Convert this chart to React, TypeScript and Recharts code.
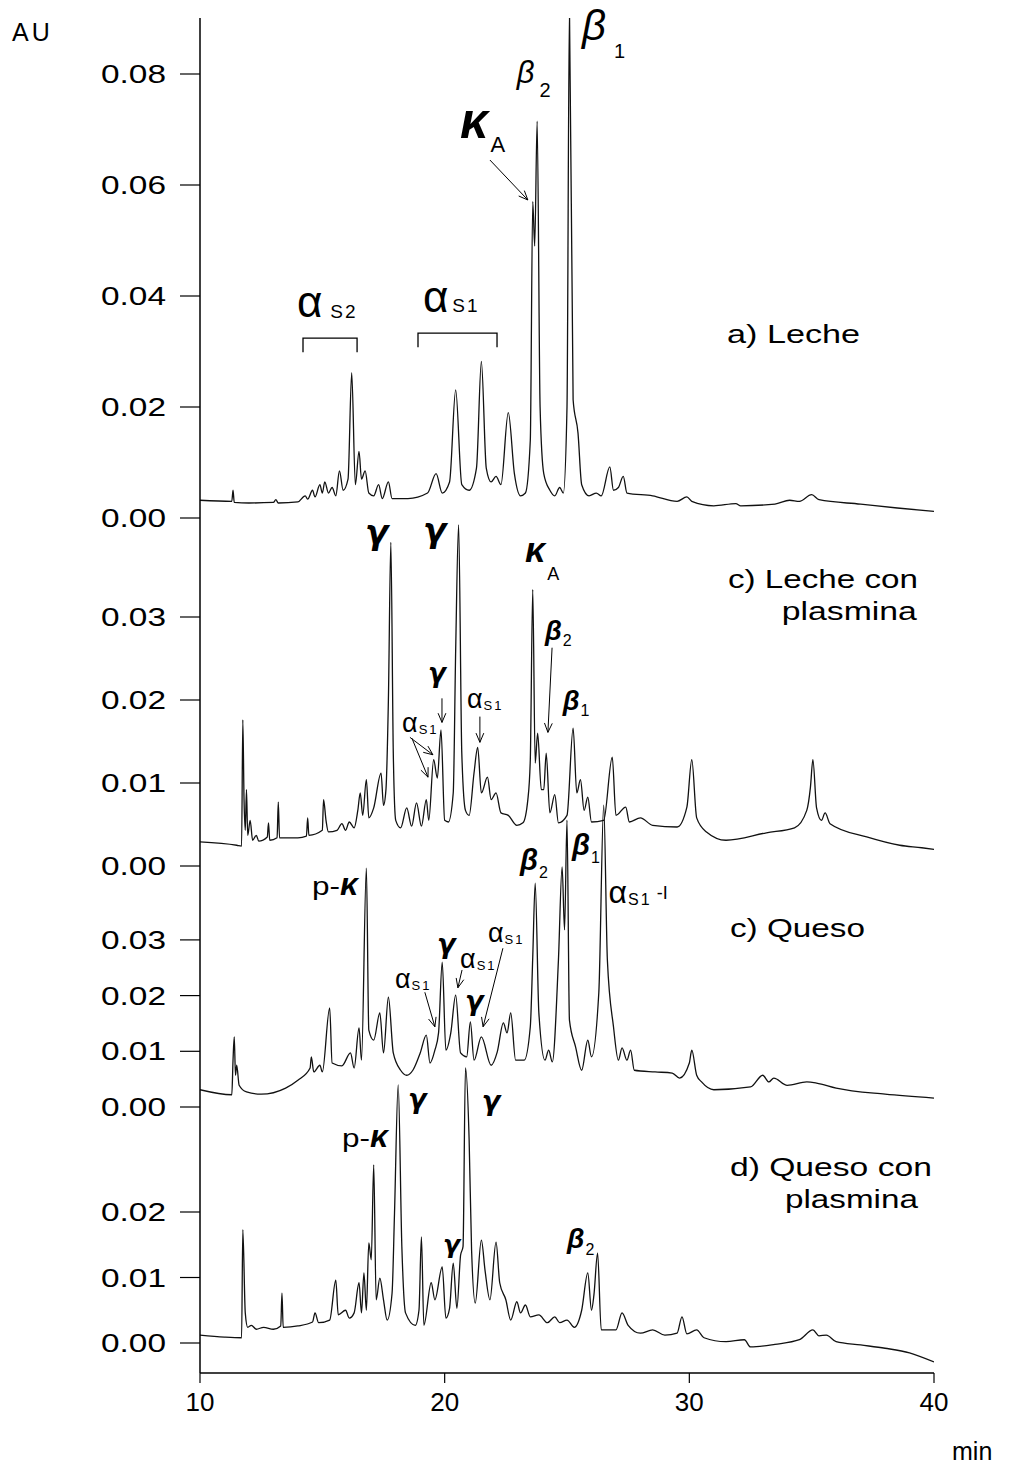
import React from "react";
import { LineChart, Line, XAxis, YAxis, ReferenceDot, ReferenceLine } from "recharts";

const FONT = '"Liberation Sans", Arial, Helvetica, sans-serif';
const GREEK = '"DejaVu Sans", "Liberation Sans", sans-serif';

// a) Leche
const aTime = [10.0, 11.3, 11.35, 11.4, 12.0, 13.0, 13.1, 13.2, 14.0, 14.3, 14.4, 14.6, 14.7, 14.9, 15.0, 15.1, 15.25, 15.4, 15.55, 15.7, 15.85, 16.05, 16.2, 16.35, 16.5, 16.6, 16.75, 16.9, 17.1, 17.3, 17.45, 17.7, 17.85, 18.5, 19.3, 19.65, 19.9, 20.2, 20.45, 20.7, 21.0, 21.3, 21.5, 21.7, 21.9, 22.1, 22.3, 22.6, 22.85, 23.1, 23.3, 23.5, 23.6, 23.68, 23.78, 23.9, 24.05, 24.3, 24.5, 24.7, 24.85, 25.0, 25.1, 25.25, 25.45, 25.6, 25.9, 26.2, 26.4, 26.75, 26.9, 27.1, 27.3, 27.45, 28.5, 29.5, 29.9, 30.1, 31.0, 31.9, 32.1, 33.5, 34.1, 34.5, 35.0, 35.3, 37.0, 38.5, 40.0];
const aAU = [0.0032, 0.003, 0.005, 0.0028, 0.0027, 0.0028, 0.0033, 0.0027, 0.0029, 0.004, 0.0034, 0.005, 0.0038, 0.006, 0.0045, 0.0065, 0.0045, 0.0055, 0.004, 0.0085, 0.005, 0.007, 0.0262, 0.006, 0.012, 0.007, 0.0085, 0.0045, 0.004, 0.006, 0.0035, 0.0065, 0.0035, 0.0035, 0.0045, 0.008, 0.0045, 0.0065, 0.0231, 0.006, 0.005, 0.009, 0.0282, 0.009, 0.0065, 0.0075, 0.006, 0.019, 0.008, 0.004, 0.0045, 0.014, 0.057, 0.049, 0.0715, 0.02, 0.008, 0.005, 0.004, 0.0055, 0.0045, 0.02, 0.092, 0.0213, 0.0153, 0.006, 0.004, 0.0045, 0.004, 0.0092, 0.005, 0.0055, 0.0075, 0.0045, 0.004, 0.003, 0.0038, 0.003, 0.0022, 0.0026, 0.0022, 0.0025, 0.0032, 0.003, 0.0042, 0.0033, 0.0025, 0.0018, 0.0012];

// c) Leche con plasmina
const bTime = [10.0, 11.5, 11.7, 11.75, 11.8, 11.85, 11.9, 11.95, 12.05, 12.15, 12.3, 12.4, 12.75, 12.8, 12.85, 13.15, 13.2, 13.25, 14.0, 14.35, 14.4, 14.45, 15.0, 15.05, 15.15, 15.25, 15.6, 15.8, 15.95, 16.1, 16.3, 16.45, 16.55, 16.65, 16.8, 16.9, 17.1, 17.4, 17.5, 17.6, 17.7, 17.8, 17.9, 18.0, 18.2, 18.45, 18.65, 18.85, 19.05, 19.25, 19.35, 19.55, 19.7, 19.85, 20.0, 20.15, 20.35, 20.45, 20.57, 20.7, 20.85, 21.0, 21.2, 21.35, 21.5, 21.75, 21.9, 22.1, 22.3, 22.6, 22.95, 23.2, 23.4, 23.5, 23.6, 23.7, 23.8, 23.95, 24.05, 24.15, 24.3, 24.5, 24.65, 25.0, 25.25, 25.4, 25.55, 25.7, 25.85, 26.0, 26.5, 26.85, 27.0, 27.4, 27.55, 28.0, 28.5, 29.5, 29.9, 30.1, 30.3, 30.7, 31.5, 33.15, 34.3, 34.8, 34.95, 35.05, 35.2, 35.4, 35.55, 35.75, 37.25, 38.6, 39.5, 40.0];
const bAU = [0.0029, 0.0025, 0.0024, 0.0176, 0.008, 0.0043, 0.0092, 0.0037, 0.0055, 0.0031, 0.0037, 0.003, 0.0035, 0.0052, 0.0031, 0.0034, 0.0077, 0.0034, 0.0034, 0.0036, 0.0058, 0.0037, 0.0043, 0.008, 0.0055, 0.0041, 0.0043, 0.0051, 0.0043, 0.0053, 0.0046, 0.0067, 0.0088, 0.0061, 0.0104, 0.0058, 0.007, 0.0112, 0.0073, 0.0092, 0.02, 0.039, 0.0136, 0.0055, 0.0046, 0.007, 0.0048, 0.0076, 0.0048, 0.008, 0.0055, 0.0128, 0.0106, 0.0164, 0.0055, 0.0053, 0.0088, 0.026, 0.0411, 0.0136, 0.0067, 0.0061, 0.0112, 0.0143, 0.0088, 0.0107, 0.008, 0.0088, 0.0064, 0.0061, 0.0049, 0.0052, 0.008, 0.0128, 0.0333, 0.0124, 0.016, 0.0092, 0.0092, 0.0136, 0.0064, 0.0086, 0.0052, 0.0061, 0.0166, 0.0088, 0.0104, 0.0067, 0.0083, 0.0053, 0.0055, 0.0131, 0.0061, 0.0071, 0.0053, 0.0058, 0.0049, 0.0047, 0.0071, 0.0128, 0.0058, 0.0041, 0.0031, 0.004, 0.0046, 0.0067, 0.0095, 0.0128, 0.007, 0.0055, 0.0064, 0.0051, 0.0035, 0.0025, 0.0022, 0.002];

// c) Queso
const cTime = [10.0, 11.3, 11.35, 11.4, 11.45, 11.5, 11.6, 11.9, 12.5, 13.5, 14.0, 14.5, 14.55, 14.65, 14.9, 15.0, 15.3, 15.4, 15.8, 16.15, 16.3, 16.5, 16.6, 16.8, 16.9, 17.1, 17.35, 17.5, 17.7, 17.9, 18.2, 18.45, 18.7, 19.0, 19.25, 19.4, 19.6, 19.75, 19.9, 20.05, 20.25, 20.45, 20.65, 20.9, 21.05, 21.2, 21.5, 21.9, 22.15, 22.4, 22.55, 22.7, 22.9, 23.25, 23.5, 23.6, 23.7, 23.85, 24.1, 24.25, 24.4, 24.65, 24.8, 24.9, 25.0, 25.1, 25.35, 25.6, 25.85, 26.0, 26.3, 26.5, 26.65, 26.9, 27.1, 27.25, 27.45, 27.6, 27.75, 28.6, 29.3, 29.6, 30.0, 30.1, 30.3, 30.5, 31.0, 32.5, 33.0, 33.25, 33.45, 34.0, 34.8, 35.2, 36.0, 38.0, 40.0];
const cAU = [0.0031, 0.0022, 0.0084, 0.0126, 0.0057, 0.0075, 0.0039, 0.0027, 0.0023, 0.0034, 0.0048, 0.007, 0.009, 0.0063, 0.0075, 0.0063, 0.0178, 0.0079, 0.0074, 0.0097, 0.007, 0.0142, 0.0084, 0.0429, 0.0138, 0.012, 0.0169, 0.0097, 0.0197, 0.0097, 0.0066, 0.0057, 0.0066, 0.0097, 0.0129, 0.0079, 0.0102, 0.0133, 0.026, 0.0102, 0.0133, 0.0201, 0.0097, 0.009, 0.0153, 0.0084, 0.0126, 0.0075, 0.0099, 0.0151, 0.0133, 0.0169, 0.0084, 0.0084, 0.0144, 0.0269, 0.0402, 0.0169, 0.0084, 0.0102, 0.0081, 0.0264, 0.0431, 0.0318, 0.0515, 0.0156, 0.0108, 0.0066, 0.012, 0.009, 0.0205, 0.0542, 0.0264, 0.0144, 0.0084, 0.0106, 0.0084, 0.0102, 0.0066, 0.0063, 0.0061, 0.0052, 0.0079, 0.0102, 0.0057, 0.0045, 0.0031, 0.0036, 0.0057, 0.0045, 0.0052, 0.0039, 0.0045, 0.0043, 0.0034, 0.0023, 0.0016];

// d) Queso con plasmina
const dTime = [10.0, 11.0, 11.7, 11.75, 11.85, 11.95, 12.1, 12.3, 12.6, 13.0, 13.3, 13.35, 13.4, 14.0, 14.6, 14.7, 14.85, 15.3, 15.55, 15.65, 15.95, 16.1, 16.3, 16.5, 16.6, 16.7, 16.8, 16.9, 17.0, 17.1, 17.2, 17.35, 17.5, 17.65, 17.85, 17.95, 18.1, 18.25, 18.4, 18.8, 18.95, 19.05, 19.15, 19.45, 19.6, 19.9, 20.05, 20.2, 20.35, 20.5, 20.65, 20.75, 20.85, 21.0, 21.1, 21.25, 21.5, 21.65, 21.85, 22.1, 22.25, 22.5, 22.7, 22.95, 23.1, 23.3, 23.5, 23.85, 24.2, 24.5, 24.7, 25.0, 25.3, 25.6, 25.85, 26.0, 26.1, 26.25, 26.4, 27.0, 27.25, 27.5, 28.0, 28.5, 29.0, 29.5, 29.7, 29.9, 30.3, 30.6, 31.5, 32.25, 32.5, 33.5, 34.5, 35.05, 35.3, 35.6, 36.0, 37.0, 38.0, 39.0, 40.0];
const dAU = [0.0012, 0.0009, 0.0008, 0.0173, 0.0046, 0.0024, 0.0027, 0.0021, 0.0024, 0.0021, 0.0026, 0.0076, 0.0024, 0.0026, 0.0032, 0.0046, 0.0031, 0.0035, 0.0096, 0.0043, 0.005, 0.0038, 0.0046, 0.0092, 0.0046, 0.0107, 0.005, 0.0153, 0.0127, 0.0272, 0.0066, 0.0099, 0.0066, 0.0035, 0.0076, 0.0198, 0.0394, 0.0147, 0.0046, 0.0027, 0.005, 0.0162, 0.0027, 0.0092, 0.0066, 0.0116, 0.0038, 0.0053, 0.0122, 0.0053, 0.0134, 0.0147, 0.042, 0.031, 0.0142, 0.0061, 0.0157, 0.0111, 0.0066, 0.0154, 0.0092, 0.0066, 0.0035, 0.0063, 0.0046, 0.0058, 0.004, 0.0043, 0.0031, 0.004, 0.0031, 0.0035, 0.0024, 0.005, 0.0107, 0.005, 0.0073, 0.0137, 0.002, 0.002, 0.0046, 0.0027, 0.0015, 0.002, 0.0012, 0.0015, 0.004, 0.0014, 0.002, 0.0008, 0.0002, 0.0005, -0.0006, -0.0002, 0.0005, 0.002, 0.0011, 0.0012, 0.0002, -0.0003, -0.0008, -0.0015, -0.0029];

const xTicks = [10, 20, 30, 40];
const aTicks = [0, 0.02, 0.04, 0.06, 0.08];
const bTicks = [0, 0.01, 0.02, 0.03];
const cTicks = [0, 0.01, 0.02, 0.03];
const dTicks = [0, 0.01, 0.02];

// stacked layout: each trace gets an offset and a scale on one shared axis
const PANELS: Record<string, { off: number; k: number }> = {
  a: { off: 855, k: 5550 },
  b: { off: 507, k: 8300 },
  c: { off: 266, k: 5570 },
  d: { off: 30, k: 6550 },
};
const toU = (p: string, v: number) => PANELS[p].off + v * PANELS[p].k;

const build = (p: string, time: number[], au: number[]) =>
  time.map((t, i) => ({ t, u: toU(p, au[i]) }));

const dataA = build("a", aTime, aAU);
const dataB = build("b", bTime, bAU);
const dataC = build("c", cTime, cAU);
const dataD = build("d", dTime, dAU);

const yTickList = [
  ...aTicks.map((v) => ({ u: toU("a", v), label: v.toFixed(2) })),
  ...bTicks.map((v) => ({ u: toU("b", v), label: v.toFixed(2) })),
  ...cTicks.map((v) => ({ u: toU("c", v), label: v.toFixed(2) })),
  ...dTicks.map((v) => ({ u: toU("d", v), label: v.toFixed(2) })),
];
const yLabelOf = new Map(yTickList.map((d) => [d.u.toFixed(1), d.label]));

const YTick = (props: any) => {
  const { x, y, payload } = props;
  return (
    <text x={x} y={y} dy={9} textAnchor="end" fontFamily={FONT} fontSize={25} fill="#000"
      textLength={65} lengthAdjust="spacingAndGlyphs">
      {yLabelOf.get(Number(payload.value).toFixed(1))}
    </text>
  );
};

type Note = {
  p: string; t: number; v: number; main: string; size: number;
  bold?: boolean; italic?: boolean; pre?: string; greek?: boolean;
  sub?: string; subSize?: number; dx?: number; dy?: number; tail?: string;
};

const notes: Note[] = [
  { p: "a", t: 25.61, v: 0.0861, main: "β", size: 42, italic: true, sub: "1", subSize: 20, dx: 8, dy: 18 },
  { p: "a", t: 22.95, v: 0.0784, main: "β", size: 31, italic: true, sub: "2", subSize: 20, dx: 5, dy: 14 },
  { p: "a", t: 20.63, v: 0.0685, main: "κ", size: 50, bold: true, italic: true, sub: "A", subSize: 22, dx: 2, dy: 14 },
  { p: "a", t: 13.96, v: 0.0362, main: "α", size: 44, sub: "S2", subSize: 19, dx: 8, dy: 1 },
  { p: "a", t: 19.11, v: 0.0371, main: "α", size: 44, sub: "S1", subSize: 19, dx: 4, dy: 0 },
  { p: "b", t: 16.74, v: 0.0388, main: "γ", size: 34, bold: true, italic: true, greek: true },
  { p: "b", t: 19.11, v: 0.039, main: "γ", size: 34, bold: true, italic: true, greek: true },
  { p: "b", t: 19.32, v: 0.0222, main: "γ", size: 26, bold: true, italic: true, greek: true },
  { p: "b", t: 18.26, v: 0.0161, main: "α", size: 27, sub: "S1", subSize: 13, dx: 1, dy: 2 },
  { p: "b", t: 20.91, v: 0.019, main: "α", size: 27, sub: "S1", subSize: 13, dx: 1, dy: 2 },
  { p: "b", t: 23.28, v: 0.0366, main: "κ", size: 36, bold: true, italic: true, sub: "A", subSize: 18, dx: 2, dy: 18 },
  { p: "b", t: 24.1, v: 0.0272, main: "β", size: 27, bold: true, italic: true, sub: "2", subSize: 16, dx: 1, dy: 6 },
  { p: "b", t: 24.83, v: 0.0188, main: "β", size: 27, bold: true, italic: true, sub: "1", subSize: 16, dx: 1, dy: 6 },
  { p: "c", t: 14.58, v: 0.0381, pre: "p-", main: "κ", size: 32, bold: true, italic: true },
  { p: "c", t: 17.97, v: 0.0214, main: "α", size: 27, sub: "S1", subSize: 13, dx: 1, dy: 2 },
  { p: "c", t: 19.69, v: 0.0276, main: "γ", size: 27, bold: true, italic: true, greek: true },
  { p: "c", t: 20.63, v: 0.025, main: "α", size: 27, sub: "S1", subSize: 13, dx: 1, dy: 2 },
  { p: "c", t: 20.83, v: 0.0174, main: "γ", size: 27, bold: true, italic: true, greek: true },
  { p: "c", t: 21.77, v: 0.0296, main: "α", size: 27, sub: "S1", subSize: 13, dx: 1, dy: 2 },
  { p: "c", t: 23.08, v: 0.0425, main: "β", size: 29, bold: true, italic: true, sub: "2", subSize: 16, dx: 1, dy: 8 },
  { p: "c", t: 25.2, v: 0.0452, main: "β", size: 29, bold: true, italic: true, sub: "1", subSize: 16, dx: 1, dy: 8 },
  { p: "c", t: 26.7, v: 0.0366, main: "α", size: 32, sub: "S1", subSize: 16, dx: 1, dy: 2, tail: " -I" },
  { p: "d", t: 18.5, v: 0.0359, main: "γ", size: 27, bold: true, italic: true, greek: true },
  { p: "d", t: 21.52, v: 0.0356, main: "γ", size: 27, bold: true, italic: true, greek: true },
  { p: "d", t: 15.8, v: 0.0299, pre: "p-", main: "κ", size: 32, bold: true, italic: true },
  { p: "d", t: 19.93, v: 0.0137, main: "γ", size: 25, bold: true, italic: true, greek: true },
  { p: "d", t: 25.0, v: 0.0145, main: "β", size: 28, bold: true, italic: true, sub: "2", subSize: 16, dx: 1, dy: 7 },
];

const titles = [
  { p: "a", t: 31.54, v: 0.0315, text: "a)  Leche", len: 133 },
  { p: "b", t: 31.58, v: 0.0335, text: "c)  Leche con", len: 190 },
  { p: "b", t: 33.78, v: 0.0296, text: "plasmina", len: 135 },
  { p: "c", t: 31.66, v: 0.0305, text: "c)  Queso", len: 135 },
  { p: "d", t: 31.66, v: 0.0255, text: "d)  Queso con", len: 202 },
  { p: "d", t: 33.91, v: 0.0206, text: "plasmina", len: 133 },
];

const arrows = [
  { p: "a", t1: 21.85, v1: 0.0645, t2: 23.4, v2: 0.0573 },
  { p: "b", t1: 19.89, v1: 0.0202, t2: 19.89, v2: 0.0173 },
  { p: "b", t1: 18.58, v1: 0.0155, t2: 19.52, v2: 0.0134 },
  { p: "b", t1: 18.66, v1: 0.0154, t2: 19.32, v2: 0.0107 },
  { p: "b", t1: 21.44, v1: 0.018, t2: 21.44, v2: 0.0149 },
  { p: "b", t1: 24.39, v1: 0.0263, t2: 24.22, v2: 0.0161 },
  { p: "c", t1: 19.19, v1: 0.0206, t2: 19.6, v2: 0.0144 },
  { p: "c", t1: 20.71, v1: 0.0246, t2: 20.54, v2: 0.0214 },
  { p: "c", t1: 22.38, v1: 0.0285, t2: 21.57, v2: 0.0144 },
];

const brackets = [
  { p: "a", t1: 14.21, t2: 16.42, v: 0.0324 },
  { p: "a", t1: 18.91, t2: 22.14, v: 0.0333 },
];

const NoteShape = (n: Note) => (props: any) => (
  <text x={props.cx} y={props.cy} fontFamily={FONT} fill="#000">
    {n.pre && <tspan fontSize={25} textLength={28} lengthAdjust="spacingAndGlyphs">{n.pre}</tspan>}
    <tspan fontSize={n.size} fontFamily={n.greek ? GREEK : FONT}
      fontWeight={n.bold ? "bold" : "normal"} fontStyle={n.italic ? "italic" : "normal"}>
      {n.main}
    </tspan>
    {n.sub && (
      <tspan fontSize={n.subSize} dx={n.dx} dy={n.dy} letterSpacing={2}>
        {n.sub}
      </tspan>
    )}
    {n.tail && (
      <tspan fontSize={18} dy={-6}>
        {n.tail}
      </tspan>
    )}
  </text>
);

const TitleShape = (text: string, len: number) => (props: any) => (
  <text x={props.cx} y={props.cy} fontFamily={FONT} fontSize={25} fill="#000"
    textLength={len} lengthAdjust="spacingAndGlyphs">
    {text}
  </text>
);

const ArrowShape = (props: any) => {
  const { x1, y1, x2, y2 } = props;
  const ang = Math.atan2(y2 - y1, x2 - x1);
  const h = 10;
  const a1 = ang + Math.PI - 0.4;
  const a2 = ang + Math.PI + 0.4;
  return (
    <g stroke="#000" strokeWidth={1} fill="none">
      <line x1={x1} y1={y1} x2={x2} y2={y2} />
      <path d={`M${x2 + h * Math.cos(a1)},${y2 + h * Math.sin(a1)} L${x2},${y2} L${x2 + h * Math.cos(a2)},${y2 + h * Math.sin(a2)}`} />
    </g>
  );
};

const BracketShape = (props: any) => {
  const { x1, y1, x2, y2 } = props;
  return (
    <path d={`M${x1},${y1 + 14} L${x1},${y1} L${x2},${y2} L${x2},${y2 + 14}`} stroke="#000" strokeWidth={1.3} fill="none" />
  );
};

export default function App() {
  return (
    <div style={{ position: "absolute", left: 0, top: 0, width: 1014, height: 1463, background: "#fff" }}>
      <LineChart width={1014} height={1463} margin={{ top: 18, right: 80, bottom: 30, left: 10 }}>
        <XAxis
          dataKey="t"
          type="number"
          domain={[10, 40]}
          ticks={xTicks}
          allowDataOverflow
          height={60}
          tickSize={10}
          tickMargin={10}
          axisLine={{ stroke: "#000", strokeWidth: 1.5 }}
          tickLine={{ stroke: "#000", strokeWidth: 1.2 }}
          tick={{ fontSize: 26, fill: "#000", fontFamily: FONT }}
        />
        <YAxis
          type="number"
          domain={[0, 1355]}
          allowDataOverflow
          ticks={yTickList.map((d) => d.u)}
          interval={0}
          width={190}
          tickSize={20}
          tickMargin={14}
          axisLine={{ stroke: "#000", strokeWidth: 1.5 }}
          tickLine={{ stroke: "#000", strokeWidth: 1.2 }}
          tick={<YTick />}
        />
        <Line data={dataA} dataKey="u" type="monotone" stroke="#111" strokeWidth={1.3} dot={false} isAnimationActive={false} />
        <Line data={dataB} dataKey="u" type="monotone" stroke="#111" strokeWidth={1.3} dot={false} isAnimationActive={false} />
        <Line data={dataC} dataKey="u" type="monotone" stroke="#111" strokeWidth={1.3} dot={false} isAnimationActive={false} />
        <Line data={dataD} dataKey="u" type="monotone" stroke="#111" strokeWidth={1.3} dot={false} isAnimationActive={false} />
        {brackets.map((b, i) => (
          <ReferenceLine key={`br${i}`} ifOverflow="visible"
            segment={[{ x: b.t1, y: toU(b.p, b.v) }, { x: b.t2, y: toU(b.p, b.v) }]}
            shape={BracketShape} />
        ))}
        {arrows.map((a, i) => (
          <ReferenceLine key={`ar${i}`} ifOverflow="visible"
            segment={[{ x: a.t1, y: toU(a.p, a.v1) }, { x: a.t2, y: toU(a.p, a.v2) }]}
            shape={ArrowShape} />
        ))}
        {notes.map((n, i) => (
          <ReferenceDot key={`n${i}`} x={n.t} y={toU(n.p, n.v)} r={0} ifOverflow="visible" shape={NoteShape(n)} />
        ))}
        {titles.map((n, i) => (
          <ReferenceDot key={`t${i}`} x={n.t} y={toU(n.p, n.v)} r={0} ifOverflow="visible" shape={TitleShape(n.text, n.len)} />
        ))}
      </LineChart>
      <div style={{ position: "absolute", left: 12, top: 18, fontFamily: FONT, fontSize: 25, lineHeight: "28px", letterSpacing: 3 }}>AU</div>
      <div style={{ position: "absolute", left: 952, top: 1436, fontFamily: FONT, fontSize: 25, lineHeight: "30px" }}>min</div>
    </div>
  );
}
